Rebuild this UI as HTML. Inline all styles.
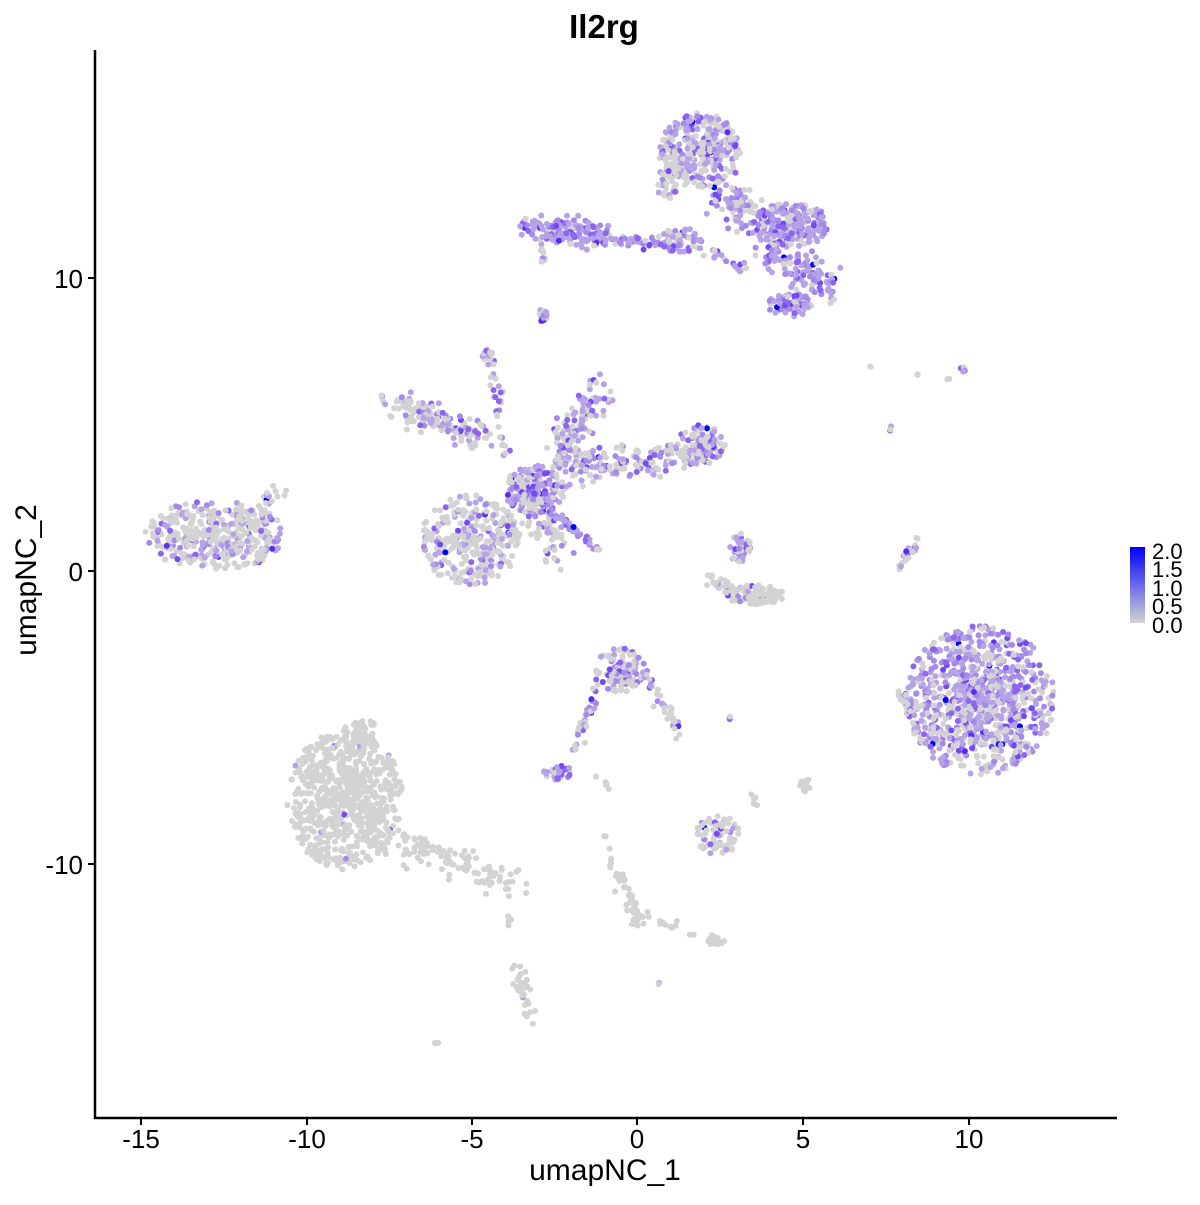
<!DOCTYPE html>
<html><head><meta charset="utf-8"><style>
body{margin:0;background:#fff;}
svg text{font-family:"Liberation Sans",sans-serif;}
</style></head><body>
<svg id="s" width="1200" height="1200" xmlns="http://www.w3.org/2000/svg">
<rect width="1200" height="1200" fill="#fff"/>
<g id="pts"></g>
<line x1="95" y1="50" x2="95" y2="1119" stroke="#000" stroke-width="2.5"/>
<line x1="94" y1="1118" x2="1117" y2="1118" stroke="#000" stroke-width="2.5"/>
<g stroke="#000" stroke-width="2">
<line x1="88" y1="278" x2="95" y2="278"/><line x1="88" y1="571" x2="95" y2="571"/><line x1="88" y1="864" x2="95" y2="864"/>
<line x1="141" y1="1118" x2="141" y2="1125"/><line x1="307" y1="1118" x2="307" y2="1125"/><line x1="472" y1="1118" x2="472" y2="1125"/><line x1="637" y1="1118" x2="637" y2="1125"/><line x1="803" y1="1118" x2="803" y2="1125"/><line x1="969" y1="1118" x2="969" y2="1125"/>
</g>
<g font-size="26" fill="#000" text-anchor="end">
<text x="83" y="288">10</text><text x="83" y="581">0</text><text x="83" y="874">-10</text>
</g>
<g font-size="26" fill="#000" text-anchor="middle">
<text x="141" y="1148">-15</text><text x="307" y="1148">-10</text><text x="472" y="1148">-5</text><text x="637" y="1148">0</text><text x="803" y="1148">5</text><text x="969" y="1148">10</text>
</g>
<text x="605" y="1180" font-size="30" text-anchor="middle">umapNC_1</text>
<text x="36" y="580" font-size="30" text-anchor="middle" transform="rotate(-90 36 580)">umapNC_2</text>
<text x="604" y="38" font-size="33" font-weight="bold" text-anchor="middle">Il2rg</text>
<defs><linearGradient id="g" x1="0" y1="0" x2="0" y2="1"><stop offset="0" stop-color="#0000ff"/><stop offset="1" stop-color="#d3d3d3"/></linearGradient></defs>
<rect x="1130" y="547" width="15" height="76" fill="url(#g)"/>
<g font-size="22" fill="#000">
<text x="1152" y="559">2.0</text><text x="1152" y="577">1.5</text><text x="1152" y="596">1.0</text><text x="1152" y="614">0.5</text><text x="1152" y="633">0.0</text>
</g>
</svg>
<script>
var seed=7;function r(){seed=(seed*16807)%2147483647;return seed/2147483647;}
function g(){return (r()+r()+r()-1.5)/0.75;}
var cols=["#b6a2e6","#a58ae9","#8c64f0","#7448f4","#5a2cf8"];
var out=[];
function dot(x,y,f){var c="#d3d3d3";if(r()<f){var k=Math.floor(r()*r()*5);c=cols[k];if(r()<0.01)c="#0000ff";}
out.push('<circle cx="'+x.toFixed(1)+'" cy="'+y.toFixed(1)+'" r="3" fill="'+c+'"/>');}
function E(cx,cy,rx,ry,n,f){for(var i=0;i<n;i++){var a=r()*6.283,d=Math.pow(r(),0.65);dot(cx+Math.cos(a)*rx*d,cy+Math.sin(a)*ry*d,f);}}
function L(x1,y1,x2,y2,w,n,f){for(var i=0;i<n;i++){var t=r();dot(x1+(x2-x1)*t+g()*w,y1+(y2-y1)*t+g()*w,f);}}
// top cluster
E(700,150,40,38,330,0.55);E(668,175,12,30,60,0.4);
L(530,230,600,235,10,140,0.85);L(600,238,660,242,5,40,0.8);E(680,240,22,12,60,0.7);
L(720,190,760,225,14,90,0.7);E(790,225,40,22,220,0.8);L(770,250,830,290,14,120,0.8);E(790,305,22,12,70,0.9);
L(700,250,745,270,5,20,0.7);L(543,250,545,265,3,8,0.2);E(543,315,5,8,15,0.6);
// central star
E(535,490,30,25,220,0.65);L(390,400,480,440,12,150,0.35);L(490,350,505,460,4,30,0.5);E(488,355,6,8,15,0.5);
L(555,460,600,390,12,120,0.55);L(560,470,700,455,12,170,0.55);E(700,445,25,20,100,0.45);
E(470,540,50,45,330,0.35);L(530,500,560,555,15,60,0.4);L(550,510,597,550,3,40,0.9);
// left
E(215,535,70,35,380,0.35);L(240,520,282,490,6,25,0.4);
// small arc
L(710,578,730,590,4,25,0.1);E(755,595,30,10,100,0.15);E(740,548,12,15,35,0.5);
L(895,575,918,540,3,25,0.4);
// right big
E(980,700,75,75,900,0.65);L(900,690,915,715,5,25,0.3);
// middle
E(620,670,25,22,120,0.4);L(600,680,575,750,4,30,0.6);L(640,670,680,735,5,40,0.5);L(730,718,732,718,1,3,0.3);
E(558,773,15,8,40,0.8);
// grey big
E(345,800,58,70,700,0.01);L(395,840,515,880,12,110,0.02);E(360,735,18,20,60,0.02);
E(718,835,22,20,80,0.1);E(805,785,5,7,15,0);L(750,795,755,805,3,6,0);
L(618,875,640,925,6,50,0);L(640,915,700,935,4,12,0);E(715,940,10,5,25,0.02);L(605,835,612,870,3,8,0);
L(517,965,530,1020,6,35,0.02);E(437,1043,3,3,3,0);E(658,983,2,2,2,0.5);L(508,915,510,925,2,4,0);
E(870,367,2,2,2,0);E(917,375,2,2,2,0);E(948,378,2,2,2,0);E(962,368,4,4,5,0.6);E(890,430,3,4,3,0.2);
L(600,775,610,790,3,5,0);
document.getElementById('pts').innerHTML=out.join('');
</script>
</body></html>
